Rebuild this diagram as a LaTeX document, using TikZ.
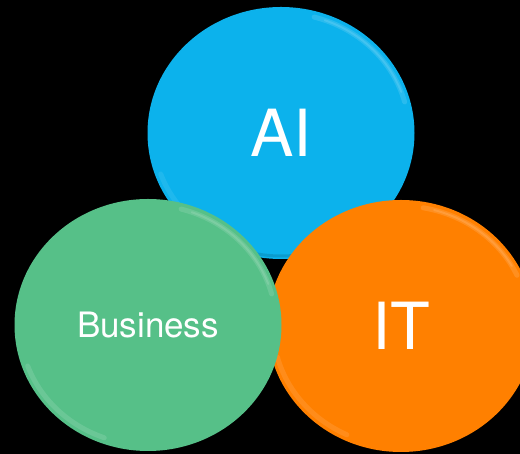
\documentclass[tikz,border=0pt]{standalone}
\usepackage{fontspec}
\setmainfont{TeX Gyre Heros}
\usetikzlibrary{shapes.geometric}
\definecolor{aiblue}{RGB}{12,178,236}
\definecolor{bizgreen}{RGB}{86,192,136}
\definecolor{itorange}{RGB}{255,128,0}
\tikzset{
  bubble/.style={ellipse, inner sep=0pt, minimum width=267pt, minimum height=252pt, text=white},
  shine/.style={white, opacity=0.12, line width=5pt, line cap=round},
  shade/.style={black, opacity=0.12, line width=3pt, line cap=round}
}
\begin{document}
\begin{tikzpicture}[x=1pt,y=1pt]
\fill[black] (0,0) rectangle (520,454);
\useasboundingbox (0,0) rectangle (520,454);
% back to front: AI, IT, Business
\node[bubble, fill=aiblue, font=\fontsize{65}{65}\selectfont] (ai) at (281,321) {AI};
\draw[shine] (ai.center) ++(15:128 and 120) arc[start angle=15, end angle=75, x radius=128, y radius=120];
\draw[shine, line width=2pt] (ai.center) ++(20:128 and 120) arc[start angle=20, end angle=70, x radius=128, y radius=120];
\draw[shine, opacity=0.08] (ai.center) ++(200:128 and 120) arc[start angle=200, end angle=250, x radius=128, y radius=120];
\draw[shade] (ai.center) ++(240:131 and 123) arc[start angle=240, end angle=300, x radius=131, y radius=123];
\node[bubble, fill=itorange, font=\fontsize{65}{65}\selectfont] (it) at (401,128) {IT};
\draw[shine] (it.center) ++(25:128 and 120) arc[start angle=25, end angle=80, x radius=128, y radius=120];
\draw[shine, line width=2pt] (it.center) ++(30:128 and 120) arc[start angle=30, end angle=75, x radius=128, y radius=120];
\draw[shine, opacity=0.1] (it.center) ++(195:128 and 120) arc[start angle=195, end angle=245, x radius=128, y radius=120];
\node[bubble, fill=bizgreen, font=\fontsize{35}{35}\selectfont] (biz) at (148,129) {Business};
\draw[shine] (biz.center) ++(15:128 and 120) arc[start angle=15, end angle=75, x radius=128, y radius=120];
\draw[shine, line width=2pt] (biz.center) ++(20:128 and 120) arc[start angle=20, end angle=70, x radius=128, y radius=120];
\draw[shine] (biz.center) ++(200:128 and 120) arc[start angle=200, end angle=250, x radius=128, y radius=120];
\end{tikzpicture}
\end{document}
